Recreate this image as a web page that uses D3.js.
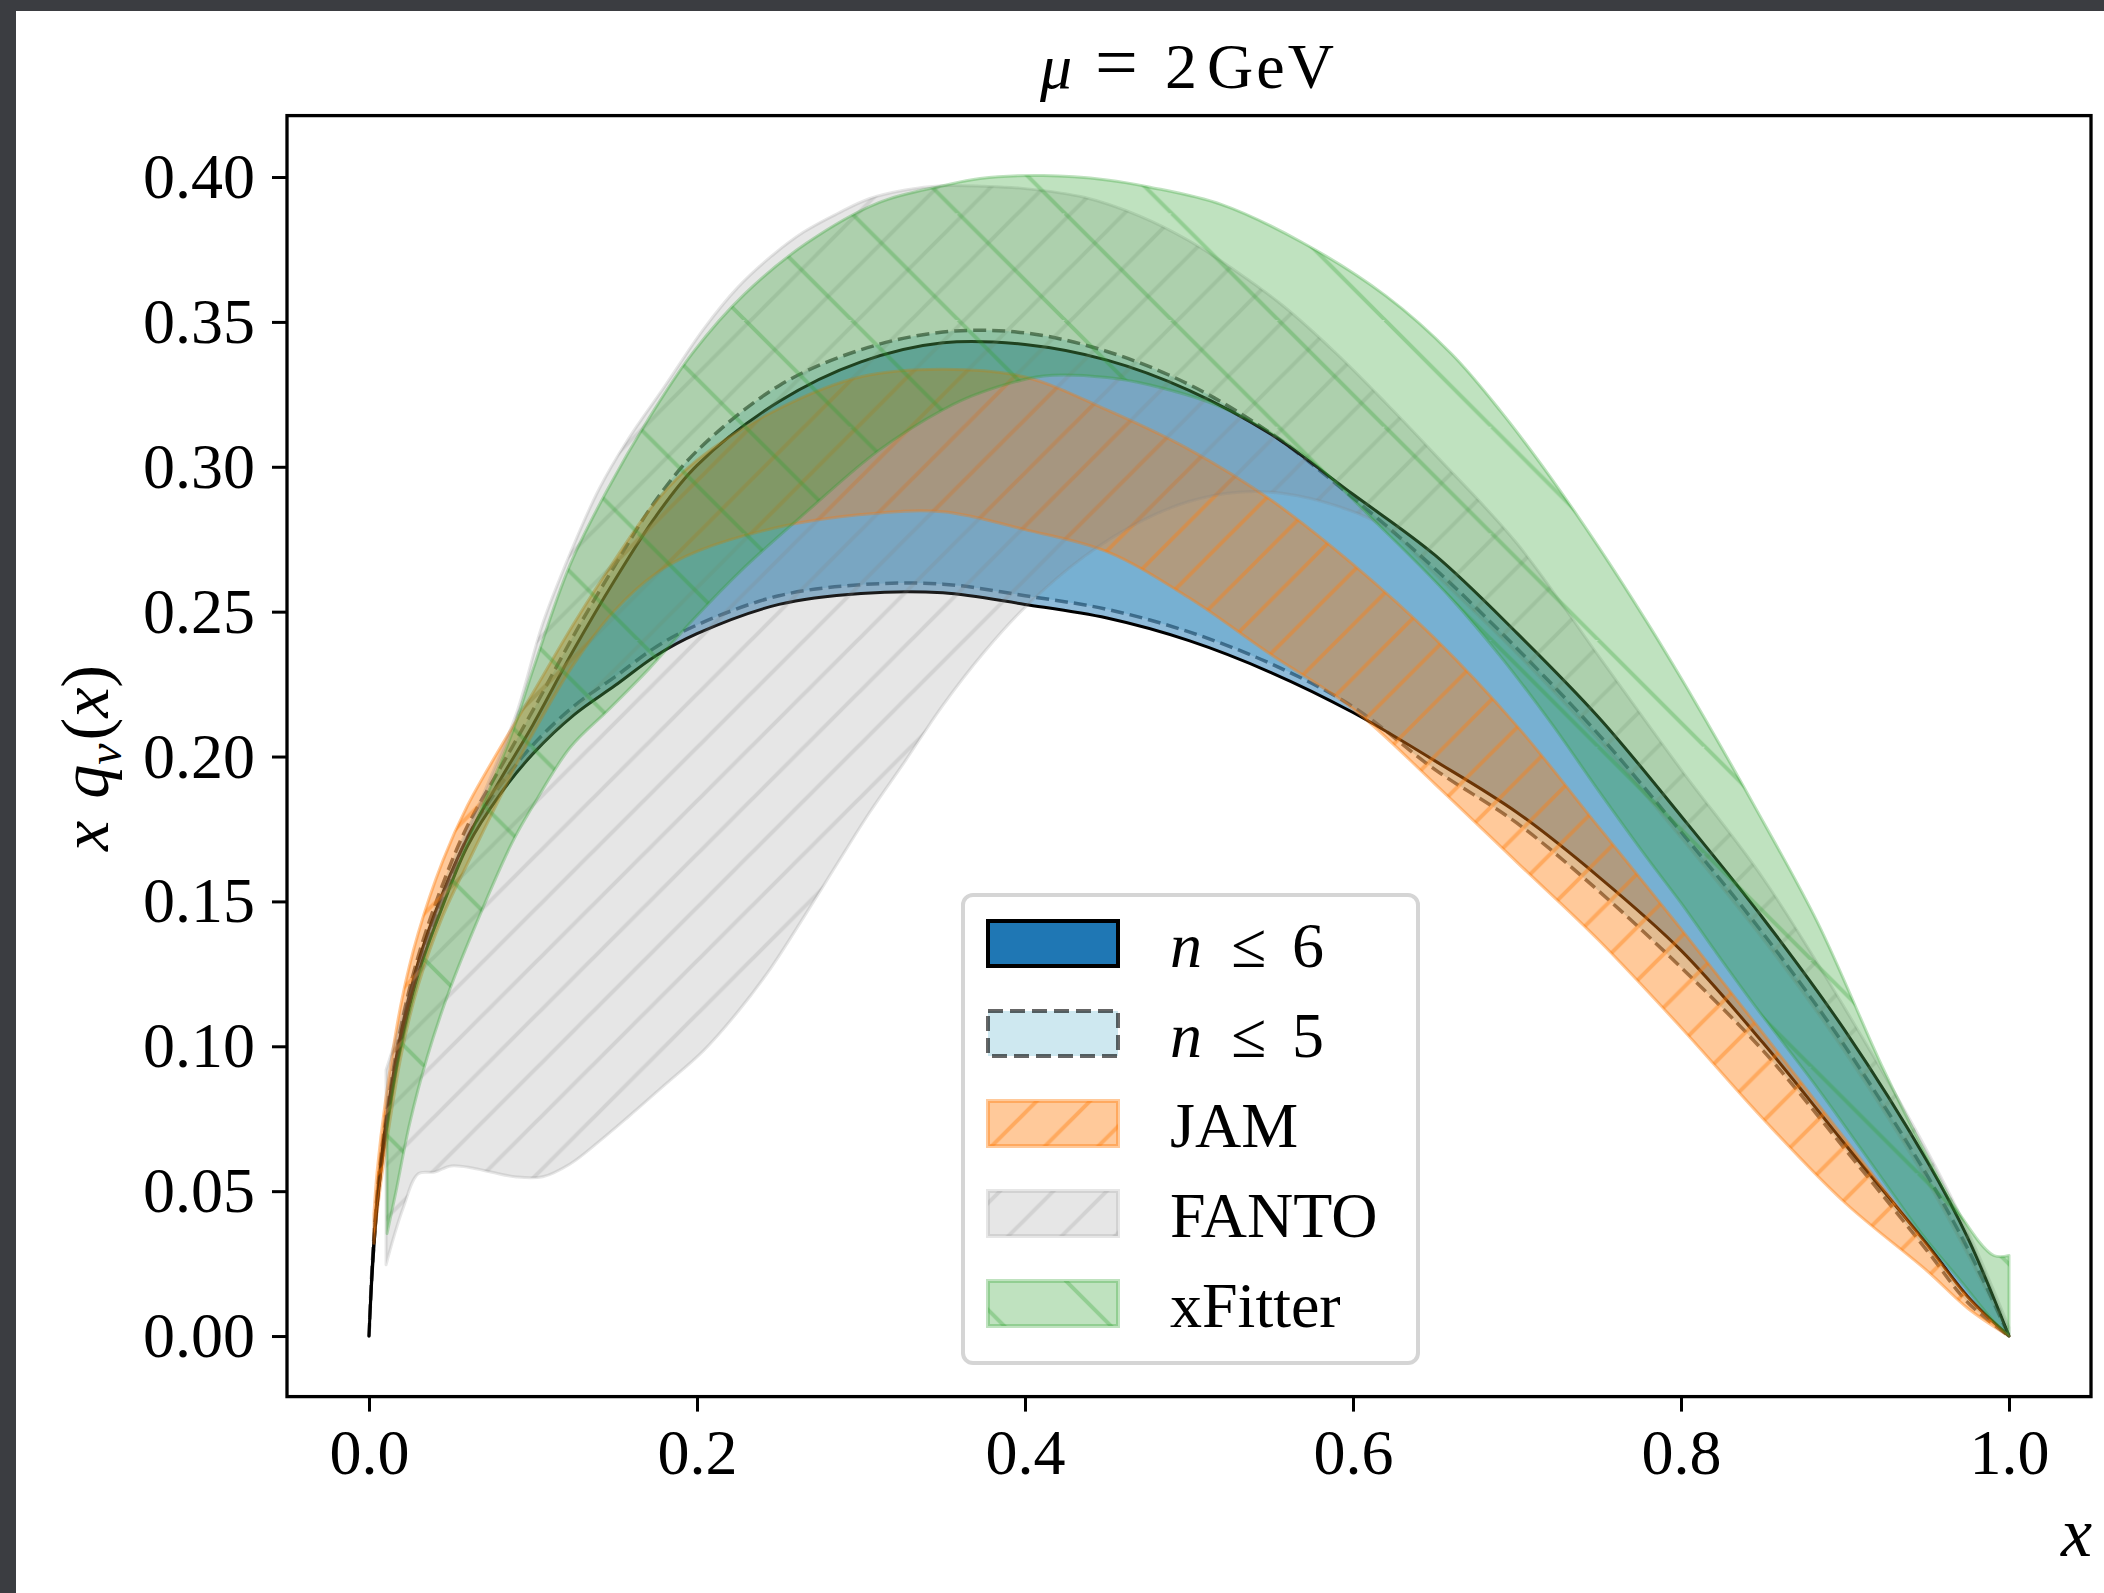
<!DOCTYPE html>
<html>
<head>
<meta charset="utf-8">
<script src="https://cdn.jsdelivr.net/npm/d3@7"></script>
<style>
  body { margin: 0; background: #3b3d41; }
  svg { display: block; }
</style>
</head>
<body>
<div id="chart"></div>
<script>
// values (x, x*q_v(x))
const xN = [0, .002, .005, .01, .02, .03, .045, .06, .08, .1, .125, .15, .175, .2, .25, .3, .35, .4, .45, .5, .55, .6, .65, .7, .75, .8, .85, .9, .95, .975, 1];
const n6Lower = [0, .022, .045, .069, .102, .125, .1485, .169, .187, .201, .2144, .2245, .2348, .2424, .2525, .2563, .2565, .2525, .2478, .240, .229, .2152, .1985, .1807, .1584, .1331, .1012, .0662, .0317, .0135, 0];
const n6Upper = [0, .024, .048, .0725, .106, .129, .153, .172, .192, .211, .237, .261, .283, .3005, .3225, .3362, .3428, .3422, .3368, .3264, .3112, .2905, .2695, .2426, .2134, .1795, .1442, .1054, .0604, .0337, 0];
const n5Lower = [0, .023, .046, .070, .104, .127, .151, .172, .19, .204, .2174, .2275, .2378, .2454, .2555, .2593, .2595, .2555, .2508, .243, .232, .2172, .1955, .177, .1535, .1272, .0985, .0645, .0295, .0115, 0];
const n5Upper = [0, .025, .049, .074, .108, .131, .156, .176, .196, .216, .242, .266, .2885, .3055, .328, .3404, .3465, .3462, .3398, .3284, .3115, .2893, .2648, .2373, .2075, .174, .139, .1, .0555, .03, 0];

const xJam = [.003, .005, .01, .02, .03, .045, .06, .08, .1, .125, .15, .175, .2, .25, .3, .35, .4, .45, .5, .55, .6, .65, .7, .75, .8, .85, .9, .95, .975, 1];
const jamLower = [.032, .043, .064, .098, .121, .145, .163, .186, .208, .232, .2505, .2632, .2708, .2792, .2835, .2845, .2783, .2707, .2548, .2352, .2165, .1905, .1635, .1365, .1065, .075, .046, .0225, .0095, 0];
const jamUpper = [.042, .057, .081, .116, .139, .164, .183, .203, .222, .246, .268, .288, .3023, .3201, .3311, .3337, .331, .3196, .306, .2885, .2663, .2407, .2105, .1755, .1405, .1045, .068, .0315, .0135, 0];

const xFanto = [.0104, .015, .021, .03, .04, .05, .063, .075, .09, .106, .1226, .14, .158, .18, .204, .225, .245, .265, .286, .305, .327, .349, .375, .4, .436, .47, .5, .53, .5575, .59, .62, .65, .7, .75, .8, .85, .9, .95, .975, 1];
const fantoLower = [.0246, .034, .0445, .056, .0566, .0587, .058, .0565, .0549, .055, .0594, .067, .0756, .0865, .0985, .112, .127, .1445, .1635, .1805, .1985, .217, .236, .2515, .269, .281, .288, .2912, .2908, .2865, .279, .263, .2355, .2055, .172, .137, .098, .0535, .028, 0];
const fantoUpper = [.0918, .1, .112, .128, .145, .16, .178, .194, .215, .246, .270, .292, .3095, .3275, .3475, .362, .3725, .381, .3875, .3925, .3955, .397, .3968, .396, .393, .3865, .378, .367, .3555, .339, .322, .3042, .2735, .2345, .1955, .158, .113, .064, .036, .003];

const xXf = [.011, .0165, .0247, .0355, .0491, .0655, .0872, .1, .1227, .1458, .1703, .1976, .2288, .2669, .3105, .35, .3726, .4113, .45, .4762, .52, .5688, .62, .66, .69, .72, .75, .78, .8, .82, .8437, .8833, .923, .9463, .9697, .9907, 1];
const xfLower = [.0354, .05, .0731, .0963, .1194, .1425, .1702, .183, .2031, .216, .230, .2472, .2652, .2845, .3055, .3197, .3255, .3313, .3308, .3282, .3205, .3045, .2775, .2545, .2345, .2122, .188, .1645, .1495, .1335, .115, .0855, .054, .0356, .0196, .005, 0];
const xfUpper = [.072, .092, .112, .134, .155, .178, .208, .230, .2663, .2925, .3164, .3395, .3595, .3772, .3911, .397, .3995, .4005, .399, .3965, .3905, .3775, .359, .339, .3192, .2967, .2721, .2457, .2271, .2077, .184, .1427, .0926, .0661, .0423, .0278, .0278];

const xTicks = [0, 0.2, 0.4, 0.6, 0.8, 1.0];
const xTickLabels = ["0.0", "0.2", "0.4", "0.6", "0.8", "1.0"];
const yTicks = [0, 0.05, 0.1, 0.15, 0.2, 0.25, 0.3, 0.35, 0.4];
const yTickLabels = ["0.00", "0.05", "0.10", "0.15", "0.20", "0.25", "0.30", "0.35", "0.40"];
const legendLabels = ["n ≤ 6", "n ≤ 5", "JAM", "FANTO", "xFitter"];

const width = 2104, height = 1593;
const serif = '"Liberation Serif", "Times New Roman", serif';

const svg = d3.select("#chart").append("svg")
  .attr("width", width)
  .attr("height", height);

// slide background + white figure
svg.append("rect").attr("width", width).attr("height", height).attr("fill", "#3b3d41");
svg.append("rect").attr("x", 16).attr("y", 11)
  .attr("width", width - 16).attr("height", height - 11).attr("fill", "#fff");

const x = d3.scaleLinear().domain([-0.05, 1.05]).range([287, 2091]);
const y = d3.scaleLinear().domain([-0.0209, 0.4212]).range([1396.6, 115.6]);

const defs = svg.append("defs");

// hatches are fixed to the page, like matplotlib does it
function hatch(id, size, dir, color, alpha, shift) {
  const s = size;
  const p = defs.append("pattern")
    .attr("id", id)
    .attr("patternUnits", "userSpaceOnUse")
    .attr("width", s).attr("height", s)
    .attr("patternTransform", `translate(${shift},0)`);
  const d = dir === "/"
    ? `M${-s},${s}L${s},${-s}M0,${s}L${s},0M0,${2 * s}L${2 * s},0`
    : `M0,0L${s},${s}M${s},0L${2 * s},${s}M${-s},0L${s},${2 * s}`;
  p.append("path").attr("d", d)
    .attr("fill", "none")
    .attr("stroke", color)
    .attr("stroke-opacity", alpha)
    .attr("stroke-width", 4);
}
hatch("hJam", 53.33, "/", "#ff7f0e", 0.42, 4.6);
hatch("hFanto", 53.33, "/", "#808080", 0.2, 4.6);
hatch("hXf", 106.67, "\\", "#2ca02c", 0.3, -1.7);

defs.append("clipPath").attr("id", "plotArea")
  .append("rect").attr("x", 287).attr("y", 115.6).attr("width", 1804).attr("height", 1281);

const area = d3.area()
  .x(d => x(d[0]))
  .y0(d => y(d[1]))
  .y1(d => y(d[2]))
  .curve(d3.curveCatmullRom.alpha(0.5));

const bands = [
  { xs: xN, lo: n5Lower, hi: n5Upper, fill: "#add8e6", fa: 0.6, stroke: "#000", sa: 0.6, sw: 3.5, dash: "13,6" },
  { xs: xN, lo: n6Lower, hi: n6Upper, fill: "#1f77b4", fa: 0.5, stroke: "#000", sa: 1, sw: 3 },
  { xs: xJam, lo: jamLower, hi: jamUpper, fill: "#ff7f0e", fa: 0.42, stroke: "#ff7f0e", sa: 0.42, sw: 3, hatch: "hJam" },
  { xs: xFanto, lo: fantoLower, hi: fantoUpper, fill: "#808080", fa: 0.2, stroke: "#808080", sa: 0.2, sw: 3, hatch: "hFanto" },
  { xs: xXf, lo: xfLower, hi: xfUpper, fill: "#2ca02c", fa: 0.3, stroke: "#2ca02c", sa: 0.3, sw: 3, hatch: "hXf" }
];

const plot = svg.append("g").attr("clip-path", "url(#plotArea)");

bands.forEach(b => {
  const pts = b.xs.map((v, i) => [v, b.lo[i], b.hi[i]]);
  const d = area(pts);
  plot.append("path").attr("d", d).attr("fill", b.fill).attr("fill-opacity", b.fa);
  if (b.hatch) plot.append("path").attr("d", d).attr("fill", `url(#${b.hatch})`);
  plot.append("path").attr("d", d)
    .attr("fill", "none")
    .attr("stroke", b.stroke)
    .attr("stroke-opacity", b.sa)
    .attr("stroke-width", b.sw)
    .attr("stroke-dasharray", b.dash || null)
    .attr("stroke-linejoin", "round");
});

// axes frame
svg.append("rect")
  .attr("x", 287).attr("y", 115.6).attr("width", 1804).attr("height", 1281)
  .attr("fill", "none").attr("stroke", "#000").attr("stroke-width", 3.3);

svg.append("g")
  .attr("transform", "translate(287,0)")
  .call(d3.axisLeft(y).tickValues(yTicks).tickFormat((d, i) => yTickLabels[i])
    .tickSize(15).tickPadding(17))
  .attr("font-size", 64).attr("font-family", serif)
  .call(g => g.select(".domain").remove())
  .call(g => g.selectAll("line").attr("stroke-width", 3))
  .call(g => g.selectAll("text").attr("fill", "#000"));

svg.append("g")
  .attr("transform", "translate(0,1396.6)")
  .call(d3.axisBottom(x).tickValues(xTicks).tickFormat((d, i) => xTickLabels[i])
    .tickSize(15).tickPadding(17))
  .attr("font-size", 64).attr("font-family", serif)
  .call(g => g.select(".domain").remove())
  .call(g => g.selectAll("line").attr("stroke-width", 3))
  .call(g => g.selectAll("text").attr("fill", "#000"));

// title
const title = svg.append("text").attr("y", 88).attr("font-size", 64).attr("font-family", serif);
title.append("tspan").attr("x", 1040).attr("font-style", "italic").text("μ");
title.append("tspan").attr("x", 1095).attr("font-size", 76).text("=");
title.append("tspan").attr("x", 1165).text("2");
title.append("tspan").attr("x", 1207).attr("letter-spacing", 3).text("GeV");

// axis labels
const ylab = svg.append("text")
  .attr("transform", "translate(108,758) rotate(-90)")
  .attr("text-anchor", "middle")
  .attr("font-size", 68).attr("font-family", serif);
ylab.append("tspan").attr("font-style", "italic").text("x");
ylab.append("tspan").attr("font-style", "italic").attr("dx", 22).text("q");
ylab.append("tspan").attr("font-style", "italic").attr("font-size", 48).attr("dy", 13).text("v");
ylab.append("tspan").attr("dy", -13).attr("dx", 3).text("(");
ylab.append("tspan").attr("font-style", "italic").text("x");
ylab.append("tspan").text(")");

svg.append("text")
  .attr("x", 2092).attr("y", 1556)
  .attr("text-anchor", "end")
  .attr("font-size", 70).attr("font-family", serif)
  .attr("font-style", "italic")
  .text("x");

// legend: order n<=6, n<=5, JAM, FANTO, xFitter
const legBand = [1, 0, 2, 3, 4];
const legTop = 893;
svg.append("rect")
  .attr("x", 963).attr("y", legTop + 2).attr("width", 455).attr("height", 468)
  .attr("rx", 10)
  .attr("fill", "#fff").attr("fill-opacity", 0.8)
  .attr("stroke", "#d5d5d5").attr("stroke-width", 4);

legendLabels.forEach((lab, i) => {
  const b = bands[legBand[i]];
  const top = legTop + 28 + i * 90;
  const r = svg.append("rect").attr("x", 988).attr("y", top).attr("width", 130).attr("height", 45);
  if (i === 0) {
    r.attr("fill", "#1f77b4").attr("stroke", "#000").attr("stroke-width", 4);
  } else {
    r.attr("fill", b.fill).attr("fill-opacity", b.fa)
      .attr("stroke", b.stroke).attr("stroke-opacity", b.sa)
      .attr("stroke-width", 4)
      .attr("stroke-dasharray", b.dash ? "15,7" : null);
    if (b.hatch) {
      svg.append("rect").attr("x", 988).attr("y", top).attr("width", 130).attr("height", 45)
        .attr("fill", `url(#${b.hatch})`);
    }
  }
  const t = svg.append("text")
    .attr("x", 1170).attr("y", top + 22.5 + 23)
    .attr("font-size", 64).attr("font-family", serif);
  if (lab.startsWith("n ")) {
    const parts = lab.split(" ");
    t.append("tspan").attr("font-style", "italic").text(parts[0]);
    t.append("tspan").attr("x", 1231).text(parts[1]);
    t.append("tspan").attr("x", 1292).text(parts[2]);
  } else {
    t.text(lab);
  }
});
</script>
</body>
</html>
